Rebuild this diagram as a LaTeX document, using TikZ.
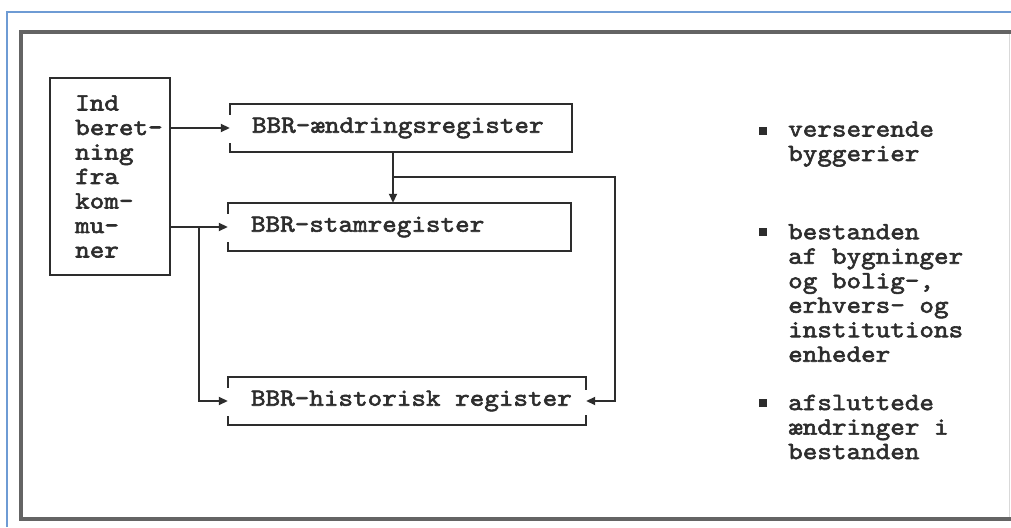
\documentclass[tikz,border=0pt]{standalone}
\usepackage{fontspec}
\usetikzlibrary{arrows.meta}
\newfontfamily\regtt{lmmono10-regular.otf}[FakeBold=2.3, FakeStretch=1.12]
\definecolor{framegray}{RGB}{100,100,100}
\definecolor{ink}{RGB}{45,45,45}
\definecolor{edgeblue}{RGB}{110,155,212}
\newcommand\regfont{\regtt\fontsize{24.8}{24.5}\selectfont}
\tikzset{
  regbox/.style={minimum width=#1, minimum height=48pt, inner sep=0pt},
  lbl/.style={font=\regfont, text=ink, anchor=west, inner sep=0pt, align=left},
  conn/.style={draw=ink, line width=1.8pt},
  arr/.style={conn, -{Triangle[length=9pt,width=8pt]}},
  bulletsq/.style={fill=ink, minimum size=7.5pt, inner sep=0pt},
}
\begin{document}
\begin{tikzpicture}[x=1pt,y=1pt]
  \useasboundingbox[fill=white] (0,0) rectangle (1011,527);
  % outer frames
  \draw[edgeblue, line width=1.8pt] (7,0) -- (7,515) -- (1011,515);
  \draw[framegray, line width=4.5pt] (1011,8) -- (21,8) -- (21,495) -- (1011,495);
  \draw[black!15, line width=1pt] (1009,10) -- (1009,493);

  % source box
  \node[draw=ink, line width=1.8pt, minimum width=120pt, minimum height=197pt, inner sep=0pt] (ind) at (110,350.5) {};
  \node[lbl] (indt) at (75,350.5) {Ind\\beret-\\ning\\fra\\kom-\\mu-\\ner};

  % register boxes
  \node[regbox=342pt] (ae) at (401,399) {};
  \node[lbl] (aet) at ([xshift=22pt]ae.west) {BBR-ændringsregister};
  \draw[conn] ([yshift=-11pt]ae.north west) -- (ae.north west) -- (ae.north east)
              -- (ae.south east) -- (ae.south west) -- ([yshift=9pt]ae.south west);

  \node[regbox=343pt] (st) at (399.5,300) {};
  \node[lbl] (stt) at ([xshift=23pt]st.west) {BBR-stamregister};
  \draw[conn] ([yshift=-11pt]st.north west) -- (st.north west) -- (st.north east)
              -- (st.south east) -- (st.south west) -- ([yshift=9pt]st.south west);

  \node[regbox=358pt] (hi) at (407,126) {};
  \node[lbl] (hit) at ([xshift=23pt]hi.west) {BBR-historisk register};
  \draw[conn] ([yshift=-13pt]hi.north east) -- (hi.north east) -- (hi.north west)
              -- ([yshift=-11pt]hi.north west);
  \draw[conn] ([yshift=10pt]hi.south east) -- (hi.south east) -- (hi.south west)
              -- ([yshift=9pt]hi.south west);

  % connectors
  \coordinate (split) at (199,300);
  \coordinate (down) at (393,350);
  \coordinate (rightturn) at (615,350);
  \draw[arr] (ind.east |- ae.west) -- (ae.west);
  \draw[arr] (ind.east |- st.west) -- (st.west);
  \draw[arr] (split) |- (hi.west);
  \draw[arr] (ae.south -| down) -- (st.north -| down);
  \draw[arr] (down) -- (rightturn) |- (hi.east);

  % content list
  \node[bulletsq] (b1) at (763,396) {};
  \node[lbl] (l1) at (788,383) {verserende\\byggerier};
  \node[bulletsq] (b2) at (763,295) {};
  \node[lbl] (l2) at (788,234) {bestanden\\af bygninger\\og bolig-,\\erhvers- og\\institutions\\enheder};
  \node[bulletsq] (b3) at (763,124) {};
  \node[lbl] (l3) at (788,100) {afsluttede\\ændringer i\\bestanden};
\end{tikzpicture}
\end{document}
